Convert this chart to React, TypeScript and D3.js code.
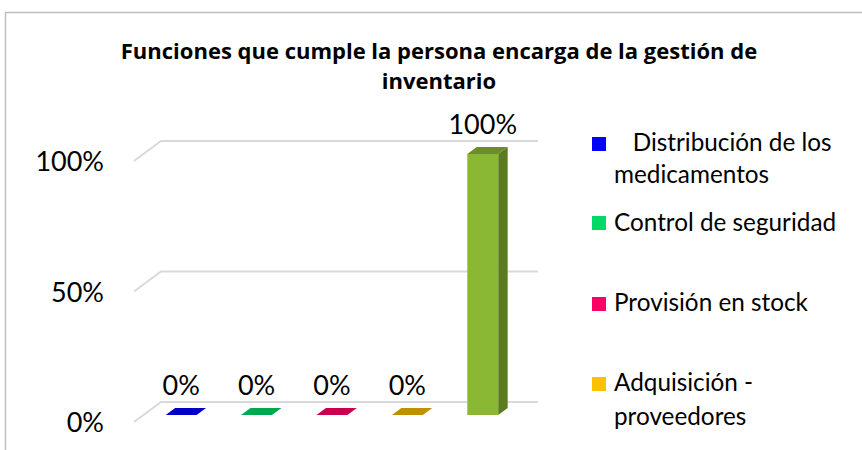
import React from "react";
import * as d3 from "d3";

const categories = ["Distribución de los medicamentos", "Control de seguridad", "Provisión en stock", "Adquisición - proveedores", "Otro"];
const values = [0, 0, 0, 0, 1];
const legendLines = [["   Distribución de los", "medicamentos"], ["Control de seguridad"], ["Provisión en stock"], ["Adquisición -", "proveedores"]];
const legendColors = ["#0000FF", "#00D868", "#FF0066", "#FFC000"];
const topColors = ["#0000C8", "#00A850", "#C8004F", "#C09000", "#6B8E2A"];
const frontColors = ["#0000FF", "#00D868", "#FF0066", "#FFC000", "#8AB834"];
const sideColors = ["#0000A0", "#008040", "#A0003F", "#A07800", "#5B7A22"];
const yTicks = [0, 0.5, 1];
const titleLines = ["Funciones que cumple la persona encarga de la gestión de", "inventario"];

const FONT = "Lato, 'Open Sans', sans-serif";

export default function App() {
  const W = 862, H = 450;
  const depthX = -27, depthY = 20;
  const x = d3.scaleBand<number>().domain(d3.range(categories.length)).range([161, 538]).paddingInner(0.59).paddingOuter(0.295);
  const y = d3.scaleLinear().domain([0, 1]).range([402, 141]);
  const fmt = d3.format(".0%");
  const dFront = 0.65, dBack = 0.3;
  const proj = (px: number, py: number, d: number): [number, number] => [px + depthX * d, py + depthY * d];

  const legendItems = [
    { sq: 137, lines: [151, 183], x: [614, 614] },
    { sq: 216, lines: [231], x: [614] },
    { sq: 297, lines: [311], x: [614] },
    { sq: 377, lines: [391, 425], x: [614, 614] },
  ];

  return (
    <svg width={W} height={H} style={{ position: "fixed", left: 0, top: 0, background: "#fff" }} fontFamily={FONT}>
      <rect x={5.5} y={12.5} width={900} height={500} fill="#fff" stroke="#BFBFBF" strokeWidth={1.5} />
      {titleLines.map((t, i) => (
        <text key={i} x={439} y={59 + i * 30} textAnchor="middle" fontWeight="bold" fontSize={22} fontFamily="'Open Sans', sans-serif" fill="#000">{t}</text>
      ))}
      {yTicks.map((t) => {
        const yb = y(t);
        const [fx, fy] = proj(161, yb, 1);
        return (
          <g key={t}>
            <polyline points={`${538},${yb} ${161},${yb} ${fx},${fy}`} fill="none" stroke="#D9D9D9" strokeWidth={2} />
            <text x={104} y={fy + 10} textAnchor="end" fontSize={27} fill="#000">{fmt(t)}</text>
          </g>
        );
      })}
      {values.map((v, i) => {
        const x0 = x(i)!, x1 = x0 + x.bandwidth();
        const yt = y(v), y0 = y(0);
        const ftl = proj(x0, yt, dFront), ftr = proj(x1, yt, dFront);
        const fbr = proj(x1, y0, dFront), fbl = proj(x0, y0, dFront);
        const btl = proj(x0, yt, dBack), btr = proj(x1, yt, dBack), bbr = proj(x1, y0, dBack);
        const pts = (a: [number, number][]) => a.map((p) => p.join(",")).join(" ");
        return (
          <g key={i}>
            <polygon points={pts([ftr, btr, bbr, fbr])} fill={sideColors[i]} />
            <polygon points={pts([ftl, ftr, fbr, fbl])} fill={frontColors[i]} />
            <polygon points={pts([ftl, ftr, btr, btl])} fill={topColors[i]} />
            <text x={(ftl[0] + ftr[0]) / 2} y={btl[1] - 13} textAnchor="middle" fontSize={27} fill="#000">{fmt(v)}</text>
          </g>
        );
      })}
      {legendItems.map((it, i) => (
        <g key={i}>
          <rect x={592} y={it.sq} width={14} height={14} fill={legendColors[i]} />
          {legendLines[i].map((l, j) => (
            <text key={j} x={it.x[j]} y={it.lines[j]} fontSize={24.3} fill="#000" style={{ whiteSpace: "pre" }}>{l}</text>
          ))}
        </g>
      ))}
    </svg>
  );
}
